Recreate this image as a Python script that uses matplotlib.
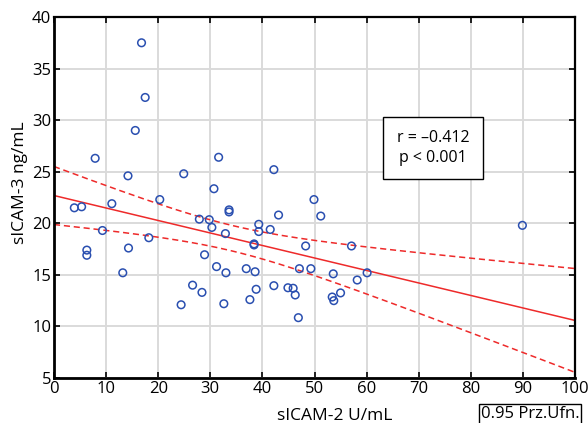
import numpy as np
import matplotlib
matplotlib.use("Agg")
import matplotlib.pyplot as plt

plt.rcParams['font.family'] = ['Open Sans', 'DejaVu Sans']

# Data
sicam2 = [3.9, 5.3, 7.9, 6.3, 6.3, 9.3, 11.1, 13.2, 14.2, 14.3, 15.6, 16.8, 17.5, 18.2, 20.3,
          24.4, 24.9, 26.6, 28.4, 28.9, 27.9, 29.8, 30.3, 30.7, 31.2, 31.6, 32.6, 32.9, 33.0,
          33.6, 33.6, 36.9, 37.6, 38.4, 38.4, 38.6, 38.8, 39.3, 39.3, 41.5, 42.2, 42.2, 43.1,
          44.9, 45.9, 46.3, 46.9, 47.1, 48.3, 49.3, 49.9, 51.2, 53.6, 53.4, 53.7, 55.0, 57.1,
          58.2, 60.1, 89.9]
sicam3 = [21.5, 21.6, 26.3, 17.4, 16.9, 19.3, 21.9, 15.2, 24.6, 17.6, 29.0, 37.5, 32.2, 18.6, 22.3,
          12.1, 24.8, 14.0, 13.3, 16.95, 20.4, 20.35, 19.6, 23.35, 15.8, 26.4, 12.2, 19.0, 15.2,
          21.3, 21.1, 15.6, 12.6, 18.0, 17.9, 15.3, 13.6, 19.9, 19.2, 19.4, 13.95, 25.2, 20.8,
          13.75, 13.7, 13.05, 10.85, 15.6, 17.8, 15.6, 22.3, 20.7, 15.1, 12.85, 12.5, 13.25, 17.8,
          14.5, 15.2, 19.8]
x_ticks = list(range(0, 101, 10))
y_ticks = list(range(5, 41, 5))
stats_text = "r = \u20130.412\np < 0.001"
legend_text = "0.95 Prz.Ufn."

x = np.array(sicam2)
y = np.array(sicam3)
n = len(x)
xm = x.mean()
sxx = ((x - xm) ** 2).sum()
b = ((x - xm) * (y - y.mean())).sum() / sxx
a = y.mean() - b * xm
res = y - (a + b * x)
s = np.sqrt((res ** 2).sum() / (n - 2))
t = 2.0
xx = np.linspace(0, 100, 200)
yy = a + b * xx
half = t * s * np.sqrt(1.0 / n + (xx - xm) ** 2 / sxx)

fig = plt.figure(figsize=(5.88, 4.23), dpi=100)
ax = fig.add_axes([54/588, 1-378/423, (575-54)/588, (378-17)/423])

ax.grid(True, color='#dadada', linewidth=1.4, zorder=0)
ax.set_axisbelow(True)
red = '#ee2a2a'
ax.plot(xx, yy, color=red, lw=1.1, zorder=2)
ax.plot(xx, yy + half, color=red, lw=1.1, ls=(0, (4, 2.5)), zorder=2)
ax.plot(xx, yy - half, color=red, lw=1.1, ls=(0, (4, 2.5)), zorder=2)
ax.scatter(x, y, s=30, facecolors='none', edgecolors='#2a4fb0', linewidths=1.1, zorder=3)

ax.set_xlim(0, 100)
ax.set_ylim(5, 40)
ax.set_xticks(x_ticks)
ax.set_yticks(y_ticks)
ax.tick_params(direction='in', top=True, right=True, length=4, width=1.2,
               labelsize=12, pad=2, colors='black')
for sp in ['left', 'bottom']:
    ax.spines[sp].set_linewidth(2.0)
for sp in ['top', 'right']:
    ax.spines[sp].set_linewidth(1.6)

ax.set_xlabel("sICAM-2 U/mL", fontsize=12.5)
ax.set_ylabel("sICAM-3 ng/mL", fontsize=12.5)
ax.xaxis.set_label_coords(0.539, -0.083)
ax.yaxis.set_label_coords(-0.05, 0.54)

ax.text((433-54)/521, (378-148)/361, stats_text, transform=ax.transAxes,
        fontsize=11.5, ha='center', va='center', linespacing=1.3,
        bbox=dict(boxstyle='square,pad=0.85', facecolor='white', edgecolor='black', lw=1.0))

fig.text(530/588, 1-413.5/423, legend_text, fontsize=12, ha='center', va='center',
         bbox=dict(boxstyle='square,pad=0.12', facecolor='white', edgecolor='black', lw=1.0))

fig.savefig("out.png", dpi=100)
